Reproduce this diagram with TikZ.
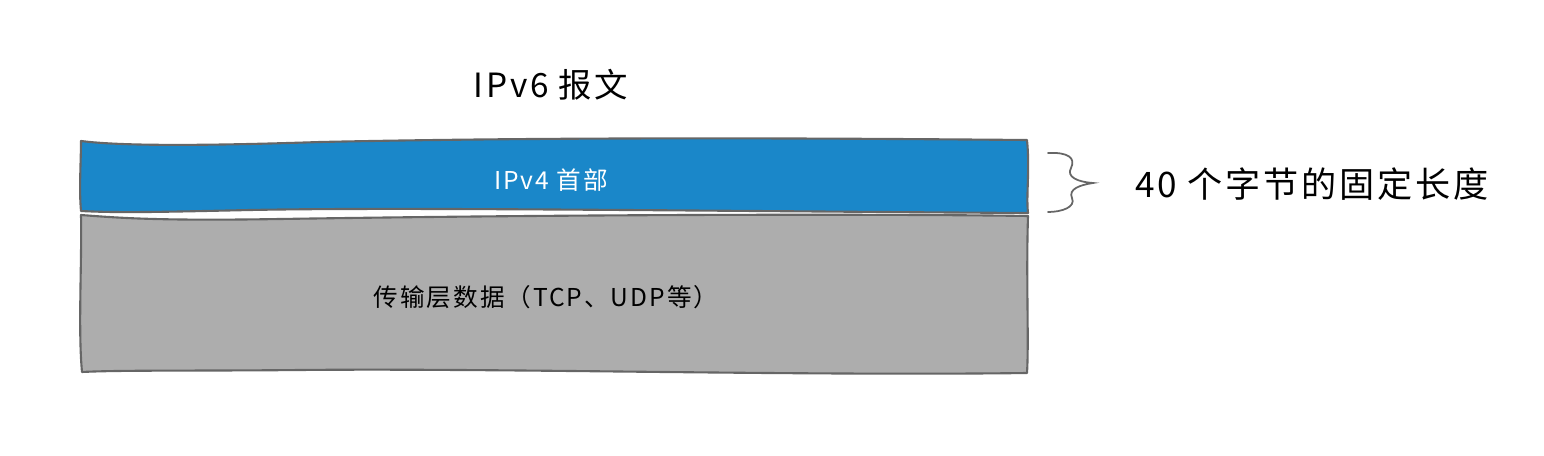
\documentclass[tikz,border=0pt]{standalone}
\usepackage{fontspec}
\newfontfamily\cjk[LetterSpace=8]{Noto Sans CJK SC}
\begin{document}
\begin{tikzpicture}[x=0.02cm,y=-0.02cm,
    edge/.style={draw=black!60,line width=1.2pt,line join=round},
    label/.style={font=\cjk\fontsize{14}{16}\selectfont,inner sep=0pt}]
      \useasboundingbox (0,0) rectangle (1544,456);
      % blue header band
      \fill[fill={rgb,255:red,26;green,135;blue,201}]
        (81,141) .. controls (120,146) and (200,146) .. (320,142)
        .. controls (600,136) and (900,139) .. (1027,140)
        .. controls (1030,170) and (1026,195) .. (1028,213)
        .. controls (700,211) and (400,207) .. (250,210)
        .. controls (160,212) and (120,213) .. (81,211)
        .. controls (79,190) and (81,160) .. (81,141) -- cycle;
      \draw[edge]
        (81,141) .. controls (120,146) and (200,146) .. (320,142)
        .. controls (600,136) and (900,139) .. (1027,140)
        .. controls (1030,170) and (1026,195) .. (1028,213)
        .. controls (700,211) and (400,207) .. (250,210)
        .. controls (160,212) and (120,213) .. (81,211)
        .. controls (79,190) and (81,160) .. (81,141) -- cycle;
      % grey data band
      \fill[fill={rgb,255:red,173;green,173;blue,173}]
        (81,215) .. controls (120,218) and (160,221) .. (280,219)
        .. controls (600,214) and (900,214) .. (1028,216)
        .. controls (1026,280) and (1029,340) .. (1027,373)
        .. controls (800,376) and (500,368) .. (300,370)
        .. controls (200,371) and (120,370) .. (82,372)
        .. controls (78,330) and (82,260) .. (81,215) -- cycle;
      \draw[edge]
        (81,215) .. controls (120,218) and (160,221) .. (280,219)
        .. controls (600,214) and (900,214) .. (1028,216)
        .. controls (1026,280) and (1029,340) .. (1027,373)
        .. controls (800,376) and (500,368) .. (300,370)
        .. controls (200,371) and (120,370) .. (82,372)
        .. controls (78,330) and (82,260) .. (81,215) -- cycle;
      % brace
      \draw[draw=black!60,line width=1pt,line cap=round]
        (1048,153) .. controls (1068,152) and (1076,158) .. (1071,168)
        .. controls (1066,177) and (1078,182) .. (1093,183)
        .. controls (1080,185) and (1068,189) .. (1072,198)
        .. controls (1076,207) and (1062,212) .. (1048,212);
      \node[label,font=\cjk\fontsize{19}{22}\selectfont] (title) at (551,85) {IPv6 报文};
      \node[label,text=white] (header) at (551,180) {IPv4 首部};
      \node[label] (payload) at (546,297) {传输层数据（TCP、UDP等）};
      \node[label,font=\cjk\fontsize{20}{24}\selectfont,anchor=west] (fixed) at (1135,184) {40 个字节的固定长度};
    \end{tikzpicture}
\end{document}
